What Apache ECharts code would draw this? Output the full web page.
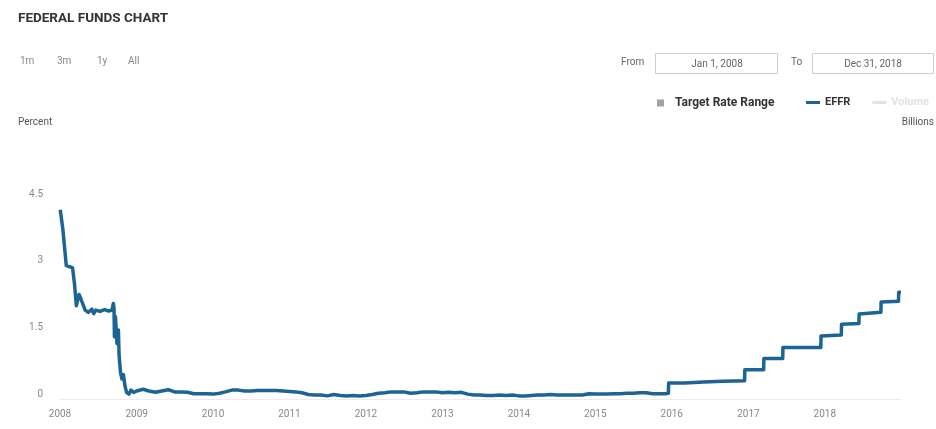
<!DOCTYPE html>
<html>
<head>
<meta charset="utf-8">
<script src="https://cdn.jsdelivr.net/npm/echarts@6/dist/echarts.min.js"></script>
<style>
  html, body { margin: 0; padding: 0; background: #fff; }
  #chart { width: 936px; height: 429px; }
</style>
</head>
<body>
<div id="chart"></div>
<script>
// Axis ticks
const yearTicks = ['2008', '2009', '2010', '2011', '2012', '2013', '2014', '2015', '2016', '2017', '2018'];
const percentTicks = [0, 1.5, 3, 4.5];

// Effective federal funds rate (percent), 2008 in detail
const effr2008Dates = [
  '2008-01-02', '2008-01-14', '2008-01-23', '2008-01-31', '2008-02-15', '2008-03-01',
  '2008-03-10', '2008-03-19', '2008-04-01', '2008-04-10', '2008-04-30', '2008-05-15',
  '2008-06-01', '2008-06-10', '2008-06-20', '2008-07-10', '2008-08-01', '2008-08-20',
  '2008-09-05', '2008-09-12', '2008-09-15', '2008-09-17', '2008-09-22', '2008-09-29',
  '2008-10-06', '2008-10-09', '2008-10-16', '2008-10-23', '2008-10-30', '2008-11-06',
  '2008-11-14', '2008-11-25', '2008-12-05', '2008-12-18'
];
const effr2008 = [
  4.26, 3.85, 3.40, 3.00, 2.98, 2.95,
  2.60, 2.10, 2.35, 2.25, 2.00, 1.95,
  2.02, 1.92, 2.00, 1.97, 2.01, 1.98,
  2.00, 2.15, 2.05, 1.40, 1.85, 1.25,
  1.55, 1.00, 0.60, 0.45, 0.55, 0.30,
  0.15, 0.11, 0.20, 0.15
];

// Monthly averages, Jan 2009 – Nov 2015
const effrMonthlyStartYear = 2009;
const effrMonthly = [
  0.18, 0.22, 0.18, 0.15, 0.18, 0.21, 0.16, 0.16, 0.15, 0.12, 0.12, 0.12,
  0.11, 0.13, 0.16, 0.20, 0.20, 0.18, 0.18, 0.19, 0.19, 0.19, 0.19, 0.18,
  0.17, 0.16, 0.14, 0.10, 0.09, 0.09, 0.07, 0.10, 0.08, 0.07, 0.08, 0.07,
  0.08, 0.10, 0.13, 0.14, 0.16, 0.16, 0.16, 0.13, 0.14, 0.16, 0.16, 0.16,
  0.14, 0.15, 0.14, 0.15, 0.11, 0.09, 0.09, 0.08, 0.08, 0.09, 0.08, 0.09,
  0.07, 0.07, 0.08, 0.09, 0.09, 0.10, 0.09, 0.09, 0.09, 0.09, 0.09, 0.12,
  0.11, 0.11, 0.11, 0.12, 0.12, 0.13, 0.13, 0.14, 0.14, 0.12, 0.12
];

// Tightening cycle, Dec 2015 – Dec 2018
const effrHikeDates = [
  '2015-12-01', '2015-12-16', '2015-12-17', '2016-03-01', '2016-06-01', '2016-09-01',
  '2016-12-14', '2016-12-15', '2017-03-15', '2017-03-16', '2017-06-14', '2017-06-15',
  '2017-12-13', '2017-12-14', '2018-03-21', '2018-03-22', '2018-06-13', '2018-06-14',
  '2018-09-26', '2018-09-27', '2018-12-19', '2018-12-20', '2018-12-31'
];
const effrHike = [
  0.12, 0.13, 0.36, 0.36, 0.38, 0.40,
  0.41, 0.66, 0.66, 0.91, 0.91, 1.16,
  1.16, 1.42, 1.44, 1.68, 1.70, 1.91,
  1.95, 2.18, 2.20, 2.40, 2.40
];

// FOMC target rate / target range
const targetDates = [
  '2008-01-01', '2008-01-22', '2008-01-30', '2008-03-18', '2008-04-30', '2008-10-08',
  '2008-10-29', '2008-12-16', '2015-12-17', '2016-12-15', '2017-03-16', '2017-06-15',
  '2017-12-14', '2018-03-22', '2018-06-14', '2018-09-27', '2018-12-20', '2018-12-31'
];
const targetLow = [4.25, 3.5, 3.0, 2.25, 2.0, 1.5, 1.0, 0, 0.25, 0.5, 0.75, 1.0, 1.25, 1.5, 1.75, 2.0, 2.25, 2.25];
const targetHigh = [4.25, 3.5, 3.0, 2.25, 2.0, 1.5, 1.0, 0.25, 0.5, 0.75, 1.0, 1.25, 1.5, 1.75, 2.0, 2.25, 2.5, 2.5];

const ts = s => { const p = s.split('-').map(Number); return Date.UTC(p[0], p[1] - 1, p[2]); };

const effrData = [];
effr2008Dates.forEach((d, i) => effrData.push([ts(d), effr2008[i]]));
effrMonthly.forEach((v, i) => effrData.push([Date.UTC(effrMonthlyStartYear, i, 1), v]));
effrHikeDates.forEach((d, i) => effrData.push([ts(d), effrHike[i]]));

const targetLowData = targetDates.map((d, i) => [ts(d), targetLow[i]]);
const targetSpanData = targetDates.map((d, i) => [ts(d), +(targetHigh[i] - targetLow[i]).toFixed(4)]);

const yearTickValues = yearTicks.map(y => Date.UTC(+y, 0, 1));

const FONT = 'Roboto, "Noto Sans", sans-serif';
const chart = echarts.init(document.getElementById('chart'), null, { renderer: 'canvas' });

chart.setOption({
  animation: false,
  backgroundColor: '#ffffff',
  textStyle: { fontFamily: FONT },
  grid: { left: 60, right: 35, top: 199, bottom: 30 },
  legend: [
    {
      data: [{ name: 'Target Rate Range', icon: 'rect' }],
      left: 652, top: 92,
      itemWidth: 7, itemHeight: 7,
      textStyle: { fontFamily: FONT, fontSize: 12, fontWeight: 'bold', color: '#333', padding: [0, 0, 0, 6] },
      selectedMode: false
    },
    {
      data: [{ name: 'EFFR', icon: 'rect' }, { name: 'Volume', icon: 'rect' }],
      left: 801, top: 92,
      itemWidth: 14, itemHeight: 3, itemGap: 22,
      inactiveColor: '#e2e2e2',
      selected: { Volume: false },
      textStyle: { fontFamily: FONT, fontSize: 11, fontWeight: 'bold', color: '#333' }
    }
  ],
  xAxis: {
    type: 'value',
    min: ts('2008-01-01'),
    max: ts('2018-12-31'),
    axisLine: { show: true, lineStyle: { color: '#ececec' } },
    axisTick: { show: false },
    splitLine: { show: false },
    axisLabel: {
      customValues: yearTickValues,
      formatter: v => String(new Date(v).getUTCFullYear()),
      color: '#888', fontSize: 10, margin: 10, fontFamily: FONT
    }
  },
  yAxis: {
    type: 'value',
    min: percentTicks[0],
    max: percentTicks[percentTicks.length - 1],
    interval: 1.5,
    axisLine: { show: false },
    axisTick: { show: false },
    splitLine: { show: false },
    axisLabel: {
      customValues: percentTicks,
      formatter: v => String(v),
      color: '#888', fontSize: 10, margin: 17, verticalAlign: 'bottom', fontFamily: FONT
    }
  },
  series: [
    {
      name: 'Target Rate Range',
      type: 'line',
      step: 'end',
      stack: 'target',
      data: targetLowData,
      symbol: 'none',
      silent: true,
      itemStyle: { color: '#a3a3a3' },
      lineStyle: { opacity: 0 },
      z: 1
    },
    {
      name: 'Target Rate Range',
      type: 'line',
      step: 'end',
      stack: 'target',
      data: targetSpanData,
      symbol: 'none',
      silent: true,
      itemStyle: { color: '#a3a3a3' },
      lineStyle: { opacity: 0 },
      areaStyle: { color: 'rgba(210, 190, 140, 0.28)' },
      z: 1
    },
    {
      name: 'EFFR',
      type: 'line',
      data: effrData,
      symbol: 'none',
      itemStyle: { color: '#1b6494' },
      lineStyle: { color: '#1b6494', width: 3.5, join: 'round' },
      z: 3
    },
    {
      name: 'Volume',
      type: 'line',
      data: [],
      symbol: 'none',
      itemStyle: { color: '#cfcfcf' }
    }
  ],
  graphic: [
    { type: 'text', left: 18, top: 12, style: { text: 'FEDERAL FUNDS CHART', font: 'bold 13.5px ' + FONT, fill: '#333' } },
    { type: 'text', left: 20, top: 56, style: { text: '1m', font: '10px ' + FONT, fill: '#888' } },
    { type: 'text', left: 57, top: 56, style: { text: '3m', font: '10px ' + FONT, fill: '#888' } },
    { type: 'text', left: 97, top: 56, style: { text: '1y', font: '10px ' + FONT, fill: '#888' } },
    { type: 'text', left: 128, top: 56, style: { text: 'All', font: '10px ' + FONT, fill: '#888' } },
    { type: 'text', left: 621, top: 57, style: { text: 'From', font: '10px ' + FONT, fill: '#666' } },
    { type: 'rect', shape: { x: 655.5, y: 53.5, width: 122, height: 20 }, style: { fill: '#fff', stroke: '#cfcfcf', lineWidth: 1 } },
    { type: 'text', x: 717, y: 64, style: { text: 'Jan 1, 2008', font: '10px ' + FONT, fill: '#666', align: 'center', verticalAlign: 'middle' } },
    { type: 'text', left: 791, top: 57, style: { text: 'To', font: '10px ' + FONT, fill: '#666' } },
    { type: 'rect', shape: { x: 812.5, y: 53.5, width: 121, height: 20 }, style: { fill: '#fff', stroke: '#cfcfcf', lineWidth: 1 } },
    { type: 'text', x: 873, y: 64, style: { text: 'Dec 31, 2018', font: '10px ' + FONT, fill: '#666', align: 'center', verticalAlign: 'middle' } },
    { type: 'text', left: 18, top: 117, style: { text: 'Percent', font: '10px ' + FONT, fill: '#555' } },
    { type: 'text', right: 2, top: 117, style: { text: 'Billions', font: '10px ' + FONT, fill: '#555' } }
  ]
});
</script>
</body>
</html>
